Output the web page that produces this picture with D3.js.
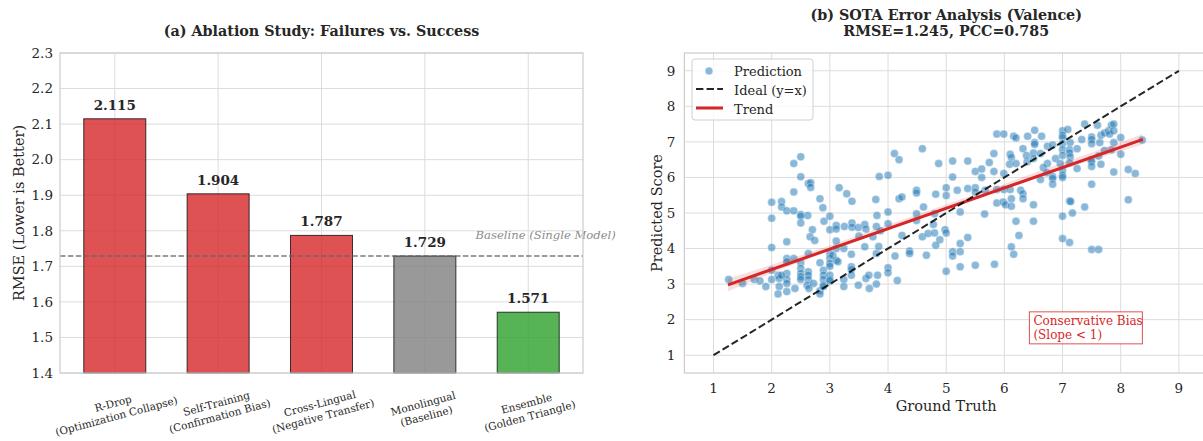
<!DOCTYPE html>
<html>
<head>
<meta charset="utf-8">
<script src="https://cdn.jsdelivr.net/npm/d3@7"></script>
<style>
  body { margin: 0; background: #fff; }
  svg text { font-family: "DejaVu Serif", serif; fill: #262626; }
</style>
</head>
<body>
<div id="chart"></div>
<script>
// ---- data: panel (a) ----
var methods = ['R-Drop', 'Self-Training', 'Cross-Lingual', 'Monolingual', 'Ensemble'];
var methodNotes = ['(Optimization Collapse)', '(Confirmation Bias)', '(Negative Transfer)', '(Baseline)', '(Golden Triangle)'];
var rmse = [2.115, 1.904, 1.787, 1.729, 1.571];
var barKinds = ['fail', 'fail', 'fail', 'base', 'win'];
var rmseTicks = [1.4, 1.5, 1.6, 1.7, 1.8, 1.9, 2.0, 2.1, 2.2, 2.3];
var baselineRmse = 1.729;

// ---- data: panel (b) ----
var groundTruth = [
  2.38, 2.50, 2.50, 2.63, 2.67, 2.67, 2.38, 3.16, 3.29, 3.38, 2.83, 2.88, 2.00, 2.17, 2.17, 2.26, 2.38, 2.50, 2.50, 2.62,
  2.00, 2.50, 2.90, 3.00, 3.79, 3.81, 3.85, 2.70, 3.00, 3.11, 3.11, 3.25, 3.38, 3.38, 3.49, 3.60, 3.62, 3.80,
  5.87, 5.99, 6.16, 6.20, 4.11, 4.19, 4.59, 4.87, 5.11, 5.37, 5.50, 5.61, 5.74, 5.82, 5.82, 5.61, 5.11, 5.99, 6.10, 6.12,
  6.09, 6.20, 6.39, 4.00, 4.19, 4.24, 4.49, 4.49, 4.61, 4.82, 5.00, 5.00, 5.19, 5.37, 5.50, 5.50, 5.67, 5.87, 5.99, 6.10,
  5.87, 5.98, 6.02, 6.12, 6.12, 4.00, 4.49, 4.80, 5.24, 5.66, 6.20, 4.00, 4.78, 4.98,
  6.40, 6.52, 6.64, 6.52, 6.52, 6.32, 6.38, 6.50, 6.50, 6.62, 6.74, 6.83, 6.74, 6.88, 6.67, 6.73, 6.62, 6.83, 6.83, 6.83,
  7.00, 7.09, 7.00, 7.00, 7.13, 7.00, 7.00, 7.12, 7.12, 7.00, 7.13, 7.25, 7.33, 7.38, 7.50, 7.50, 7.50, 7.60, 7.64, 7.66,
  7.72, 7.79, 7.84, 7.88, 7.81, 7.88, 7.88, 8.00, 7.84, 8.00, 7.72, 7.62, 7.49, 7.50, 7.50, 7.66, 7.25, 7.00, 7.00, 7.00,
  7.12, 6.96, 7.88, 8.13, 8.25, 7.50, 6.28, 6.32, 6.32, 6.50, 7.12, 7.14, 7.38, 8.13, 7.00, 7.17, 6.50, 8.37,
  1.26, 1.50, 1.70, 1.80, 1.90, 2.00, 2.26, 2.00, 2.00, 2.11, 2.13, 2.13, 2.11, 2.26, 2.26, 2.26, 2.26, 2.26, 2.26, 2.17,
  2.38, 2.40, 2.50, 2.50, 2.50, 2.50, 2.50, 2.63, 2.63, 2.63, 2.63, 2.61, 2.64, 2.66, 2.74, 2.72, 2.83, 2.83, 2.83, 2.89,
  2.89, 2.89, 2.89, 2.89, 3.00, 3.00, 3.00, 3.00, 3.00, 3.00, 3.00, 3.05, 3.11, 3.14, 3.11, 3.11, 3.24, 3.24, 3.24, 3.37,
  3.37, 3.37, 3.37, 3.49, 3.50, 3.60, 3.62, 3.67, 3.80, 3.80, 3.74,
  3.87, 3.84, 4.24, 4.37, 4.37, 4.12, 4.59, 4.69, 4.80, 5.00, 4.89, 4.82, 4.66, 4.49, 5.11, 5.11, 5.24, 5.24, 5.37, 5.00,
  5.24, 5.50, 5.83, 4.00, 4.00, 4.16, 3.82, 3.68, 6.25, 6.12, 6.16, 7.00, 7.12, 7.50, 7.62
];
var predicted = [
  6.39, 6.58, 6.02, 5.83, 5.85, 5.72, 5.59, 5.71, 5.54, 5.33, 5.40, 5.15, 5.30, 5.32, 5.17, 5.06, 5.06, 4.96, 4.91, 4.93,
  4.85, 4.72, 4.77, 4.91, 5.38, 4.93, 6.03, 4.53, 4.53, 4.65, 4.55, 4.62, 4.72, 4.60, 4.59, 4.68, 4.55, 4.62,
  7.22, 7.22, 7.16, 7.11, 6.67, 6.50, 6.81, 6.39, 6.46, 6.46, 6.17, 6.24, 6.42, 6.67, 6.17, 6.00, 6.01, 6.11, 6.65, 6.56,
  6.37, 6.39, 6.44, 6.06, 5.40, 5.45, 5.64, 5.56, 5.17, 5.53, 5.71, 5.49, 5.64, 5.69, 5.71, 5.59, 5.64, 5.66, 5.66, 5.66,
  5.28, 5.31, 5.23, 5.40, 5.19, 5.03, 4.98, 4.98, 5.03, 4.97, 4.77, 4.70, 4.68, 4.53,
  7.16, 7.33, 7.16, 6.98, 6.93, 6.81, 6.62, 6.69, 6.53, 6.67, 6.88, 6.91, 6.39, 6.53, 6.28, 6.13, 5.94, 6.03, 5.97, 5.81,
  7.31, 7.35, 7.19, 7.12, 6.98, 6.95, 6.78, 6.78, 6.69, 6.62, 6.58, 6.81, 7.07, 7.50, 7.14, 7.07, 6.95, 7.47, 6.98, 7.19,
  7.25, 7.31, 7.47, 7.50, 7.22, 7.31, 6.98, 7.12, 6.78, 6.65, 6.76, 6.60, 6.50, 6.44, 6.31, 6.37, 6.25, 6.20, 6.06, 6.00,
  6.41, 6.39, 6.15, 6.22, 6.11, 5.81, 5.64, 5.54, 5.40, 5.23, 5.34, 5.32, 5.17, 5.37, 4.91, 5.00, 4.77, 7.05,
  3.13, 3.02, 3.13, 3.09, 2.93, 4.03, 4.19, 3.13, 3.39, 3.25, 3.16, 2.93, 2.72, 3.72, 3.63, 3.30, 3.13, 3.02, 2.79, 3.25,
  3.72, 2.88, 3.60, 3.44, 3.30, 3.21, 3.13, 3.86, 3.35, 3.25, 3.13, 2.97, 2.88, 4.33, 4.23, 3.02, 3.60, 2.81, 2.72, 3.39,
  3.25, 3.13, 2.97, 2.93, 3.86, 3.72, 3.58, 3.50, 3.25, 3.13, 3.09, 3.81, 3.67, 3.63, 4.21, 4.00, 4.00, 3.13, 2.93, 3.84,
  3.49, 3.41, 3.25, 2.97, 4.35, 4.05, 3.16, 3.25, 3.00, 3.86, 4.33,
  4.50, 4.06, 4.37, 3.93, 3.86, 3.79, 4.33, 4.42, 4.44, 4.44, 4.25, 4.09, 3.81, 4.79, 3.91, 3.79, 4.14, 3.91, 4.31, 3.36,
  3.49, 3.53, 3.56, 3.46, 3.32, 3.10, 3.25, 2.88, 4.37, 4.05, 3.84, 4.28, 4.17, 3.97, 3.97
];
var trendX = [1.25, 8.38];
var trendY = [2.98, 7.07];
var bandX = [1.25, 2.5, 4.0, 5.5, 7.0, 8.38];
var bandLo = [2.80, 3.63, 4.56, 5.41, 6.22, 6.93];
var bandHi = [3.16, 3.81, 4.67, 5.53, 6.41, 7.22];
var scoreTicks = [1, 2, 3, 4, 5, 6, 7, 8, 9];

var w = 1203, h = 441;
var plotTop = 53, plotBottom = 373;
var gridColor = '#dcdcdc';

var svg = d3.select('#chart').append('svg')
  .attr('width', w)
  .attr('height', h);

drawAblation();
drawScatter();

function drawAblation() {
  var left = 60, right = 583;
  var colors = { fail: '#d62728', base: 'gray', win: '#2ca02c' };

  var x = d3.scaleLinear().domain([-0.53, 4.53]).range([left, right]);
  var y = d3.scaleLinear().domain([1.4, 2.3]).range([plotBottom, plotTop]);
  var g = svg.append('g');

  // grid
  g.selectAll('line.hgrid').data(rmseTicks).enter().append('line')
    .attr('x1', left).attr('x2', right)
    .attr('y1', function(d) { return y(d); })
    .attr('y2', function(d) { return y(d); })
    .attr('stroke', gridColor).attr('stroke-width', 1);
  g.selectAll('line.vgrid').data(methods).enter().append('line')
    .attr('x1', function(d, i) { return x(i); })
    .attr('x2', function(d, i) { return x(i); })
    .attr('y1', plotTop).attr('y2', plotBottom)
    .attr('stroke', gridColor).attr('stroke-width', 1);

  // bars
  g.selectAll('rect.bar').data(rmse).enter().append('rect')
    .attr('x', function(d, i) { return x(i - 0.3); })
    .attr('width', x(0.6) - x(0))
    .attr('y', function(d) { return y(d); })
    .attr('height', function(d) { return y(1.4) - y(d); })
    .attr('fill', function(d, i) { return colors[barKinds[i]]; })
    .attr('fill-opacity', 0.8)
    .attr('stroke', '#000').attr('stroke-opacity', 0.75).attr('stroke-width', 1);

  // baseline
  g.append('line')
    .attr('x1', left).attr('x2', right)
    .attr('y1', y(baselineRmse)).attr('y2', y(baselineRmse))
    .attr('stroke', '#666').attr('stroke-opacity', 0.85)
    .attr('stroke-width', 1.5).attr('stroke-dasharray', '5.5,2.4');
  g.append('text')
    .attr('x', x(3.49)).attr('y', y(1.777))
    .style('font-style', 'italic').style('font-size', '11.6px').style('fill', '#8c8c8c')
    .text('Baseline (Single Model)');

  // value labels
  g.selectAll('text.val').data(rmse).enter().append('text')
    .attr('x', function(d, i) { return x(i); })
    .attr('y', function(d) { return y(d) - 9; })
    .attr('text-anchor', 'middle')
    .style('font-weight', 'bold').style('font-size', '13.5px')
    .text(function(d) { return d.toFixed(3); });

  // frame
  g.append('rect').attr('x', left).attr('y', plotTop)
    .attr('width', right - left).attr('height', plotBottom - plotTop)
    .attr('fill', 'none').attr('stroke', '#cccccc').attr('stroke-width', 1.2);

  // y ticks
  g.selectAll('text.ytick').data(rmseTicks).enter().append('text')
    .attr('x', left - 7).attr('y', function(d) { return y(d); })
    .attr('dy', '0.35em').attr('text-anchor', 'end')
    .style('font-size', '13.5px')
    .text(function(d) { return d.toFixed(1); });

  // x ticks (rotated, two lines)
  var xt = g.selectAll('g.xtick').data(methods).enter().append('g')
    .attr('transform', function(d, i) { return 'translate(' + x(i) + ',' + 410 + ') rotate(-15)'; });
  var t = xt.append('text').attr('text-anchor', 'middle').style('font-size', '10.5px');
  t.append('tspan').attr('x', 0).attr('y', -3).text(function(d) { return d; });
  t.append('tspan').attr('x', 0).attr('y', 10).text(function(d, i) { return methodNotes[i]; });

  svg.append('text')
    .attr('transform', 'translate(19,' + ((plotTop + plotBottom) / 2) + ') rotate(-90)')
    .attr('text-anchor', 'middle').attr('dy', '0.35em')
    .style('font-size', '14.5px')
    .text('RMSE (Lower is Better)');

  svg.append('text')
    .attr('x', (left + right) / 2).attr('y', 36)
    .attr('text-anchor', 'middle')
    .style('font-weight', 'bold').style('font-size', '14.3px')
    .text('(a) Ablation Study: Failures vs. Success');
}

function drawScatter() {
  var left = 684.4, right = 1208;
  var x = d3.scaleLinear().domain([0.5, 9.5]).range([left, right]);
  var y = d3.scaleLinear().domain([0.5, 9.5]).range([plotBottom, plotTop]);
  var g = svg.append('g');

  g.selectAll('line.hgrid').data(scoreTicks).enter().append('line')
    .attr('x1', left).attr('x2', right)
    .attr('y1', function(d) { return y(d); }).attr('y2', function(d) { return y(d); })
    .attr('stroke', gridColor).attr('stroke-width', 1);
  g.selectAll('line.vgrid').data(scoreTicks).enter().append('line')
    .attr('x1', function(d) { return x(d); }).attr('x2', function(d) { return x(d); })
    .attr('y1', plotTop).attr('y2', plotBottom)
    .attr('stroke', gridColor).attr('stroke-width', 1);

  // points
  g.selectAll('circle.pt').data(groundTruth).enter().append('circle')
    .attr('cx', function(d) { return x(d); })
    .attr('cy', function(d, i) { return y(predicted[i]); })
    .attr('r', 4)
    .attr('fill', '#1f77b4').attr('fill-opacity', 0.52)
    .attr('stroke', '#fff').attr('stroke-opacity', 0.5).attr('stroke-width', 0.7);

  // confidence band + trend
  var band = d3.area()
    .x(function(d, i) { return x(d); })
    .y0(function(d, i) { return y(bandLo[i]); })
    .y1(function(d, i) { return y(bandHi[i]); })
    .curve(d3.curveMonotoneX);
  g.append('path').datum(bandX).attr('d', band)
    .attr('fill', '#d62728').attr('fill-opacity', 0.15);

  var line = d3.line()
    .x(function(d) { return x(d); })
    .y(function(d, i) { return y(trendY[i]); });
  g.append('path').datum(trendX).attr('d', line)
    .attr('fill', 'none').attr('stroke', '#d62728').attr('stroke-width', 3);

  // ideal
  g.append('line')
    .attr('x1', x(1)).attr('y1', y(1)).attr('x2', x(9)).attr('y2', y(9))
    .attr('stroke', '#000').attr('stroke-opacity', 0.85)
    .attr('stroke-width', 2).attr('stroke-dasharray', '7.4,3.2');

  // frame
  g.append('rect').attr('x', left).attr('y', plotTop)
    .attr('width', right - left).attr('height', plotBottom - plotTop)
    .attr('fill', 'none').attr('stroke', '#cccccc').attr('stroke-width', 1.2);

  // ticks
  g.selectAll('text.ytick').data(scoreTicks).enter().append('text')
    .attr('x', left - 9).attr('y', function(d) { return y(d); })
    .attr('dy', '0.35em').attr('text-anchor', 'end')
    .style('font-size', '13.5px').text(function(d) { return d; });
  g.selectAll('text.xtick').data(scoreTicks).enter().append('text')
    .attr('x', function(d) { return x(d); }).attr('y', plotBottom + 20)
    .attr('text-anchor', 'middle')
    .style('font-size', '13.5px').text(function(d) { return d; });

  svg.append('text')
    .attr('x', (left + right) / 2).attr('y', 411)
    .attr('text-anchor', 'middle').style('font-size', '14.5px')
    .text('Ground Truth');
  svg.append('text')
    .attr('transform', 'translate(657,' + ((plotTop + plotBottom) / 2) + ') rotate(-90)')
    .attr('text-anchor', 'middle').attr('dy', '0.35em')
    .style('font-size', '14.5px')
    .text('Predicted Score');

  var title = svg.append('text')
    .attr('text-anchor', 'middle')
    .style('font-weight', 'bold').style('font-size', '14.3px');
  title.append('tspan').attr('x', (left + right) / 2).attr('y', 20).text('(b) SOTA Error Analysis (Valence)');
  title.append('tspan').attr('x', (left + right) / 2).attr('y', 36).text('RMSE=1.245, PCC=0.785');

  // legend
  var lg = svg.append('g').attr('transform', 'translate(692,59)');
  lg.append('rect').attr('width', 121).attr('height', 61).attr('rx', 3)
    .attr('fill', '#fff').attr('fill-opacity', 0.8)
    .attr('stroke', '#d0d0d0').attr('stroke-width', 1);
  lg.append('circle').attr('cx', 17).attr('cy', 12).attr('r', 4)
    .attr('fill', '#1f77b4').attr('fill-opacity', 0.52)
    .attr('stroke', '#fff').attr('stroke-opacity', 0.5);
  lg.append('line').attr('x1', 4).attr('x2', 31).attr('y1', 30).attr('y2', 30)
    .attr('stroke', '#000').attr('stroke-opacity', 0.85)
    .attr('stroke-width', 2).attr('stroke-dasharray', '7.4,3.2');
  lg.append('line').attr('x1', 4).attr('x2', 31).attr('y1', 49).attr('y2', 49)
    .attr('stroke', '#d62728').attr('stroke-width', 3);
  var labels = ['Prediction', 'Ideal (y=x)', 'Trend'];
  lg.selectAll('text').data(labels).enter().append('text')
    .attr('x', 42).attr('y', function(d, i) { return 12 + i * 19; })
    .attr('dy', '0.35em').style('font-size', '13px')
    .text(function(d) { return d; });

  // annotation
  var ag = svg.append('g').attr('transform', 'translate(' + x(6.43) + ',' + y(2.22) + ')');
  ag.append('rect').attr('width', 113).attr('height', 32)
    .attr('fill', '#fff').attr('fill-opacity', 0.8)
    .attr('stroke', '#d62728').attr('stroke-opacity', 0.8).attr('stroke-width', 1);
  var at = ag.append('text').style('font-size', '12px').style('fill', '#d62728');
  at.append('tspan').attr('x', 4).attr('y', 13).text('Conservative Bias');
  at.append('tspan').attr('x', 4).attr('y', 27).text('(Slope < 1)');
}
</script>
</body>
</html>
